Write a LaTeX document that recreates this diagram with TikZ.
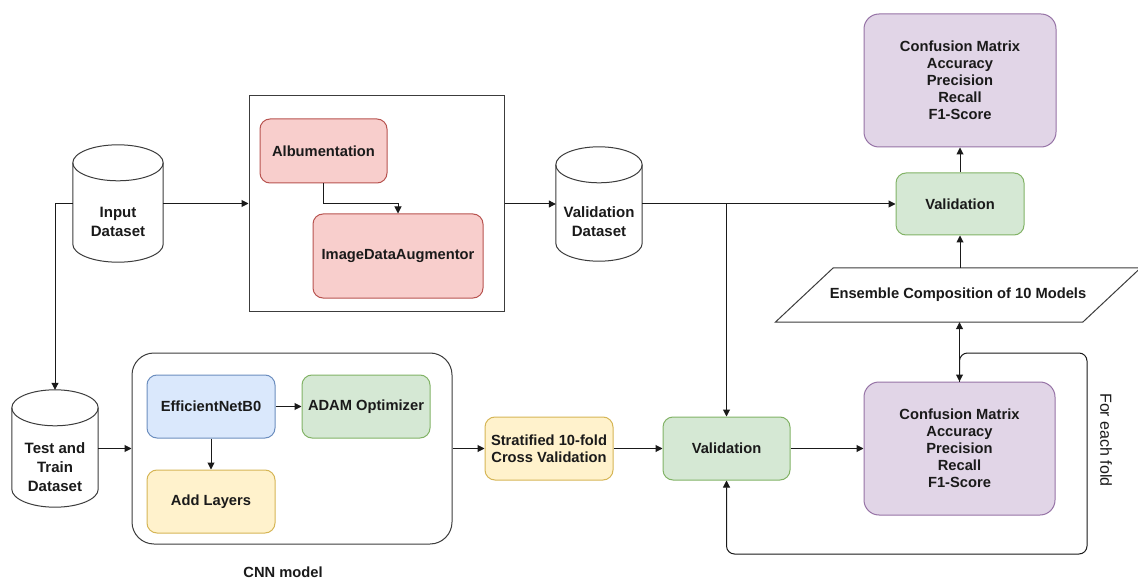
\documentclass[tikz,border=0pt]{standalone}
\usepackage{fontspec}
\setmainfont{Liberation Sans}
\usetikzlibrary{arrows.meta,calc}

\definecolor{pinkF}{HTML}{F8CECC}\definecolor{pinkD}{HTML}{B85450}
\definecolor{blueF}{HTML}{DAE8FC}\definecolor{blueD}{HTML}{6C8EBF}
\definecolor{greenF}{HTML}{D5E8D4}\definecolor{greenD}{HTML}{82B366}
\definecolor{yellowF}{HTML}{FFF2CC}\definecolor{yellowD}{HTML}{D6B656}
\definecolor{purpleF}{HTML}{E1D5E7}\definecolor{purpleD}{HTML}{9673A6}
\definecolor{ink}{HTML}{1A1A1A}

\tikzset{
  lbl/.style={font=\bfseries\fontsize{14.7}{17}\selectfont, text=ink, align=center, inner sep=0pt},
  box/.style={lbl, rectangle, rounded corners=10pt, line width=1pt},
  pinkbox/.style={box, fill=pinkF, draw=pinkD},
  bluebox/.style={box, fill=blueF, draw=blueD},
  greenbox/.style={box, fill=greenF, draw=greenD},
  yellowbox/.style={box, fill=yellowF, draw=yellowD},
  purplebox/.style={box, fill=purpleF, draw=purpleD, rounded corners=15pt},
  frame/.style={rectangle, draw=ink!85, line width=1pt, inner sep=0pt},
  cylbody/.style={rectangle, draw=none, inner sep=0pt},
  cyltext/.style={lbl, font=\bfseries\fontsize{15}{19}\selectfont},
  cylline/.style={draw=ink!85, fill=white, line width=1pt},
  conn/.style={draw=ink, line width=1pt},
  arr/.style={conn, -{Triangle[length=7pt,width=7pt]}},
  darr/.style={conn, {Triangle[length=7pt,width=7pt]}-{Triangle[length=7pt,width=7pt]}},
}

% database cylinder drawn around a named rectangular node
\newcommand\drawdbcyl[1]{%
  \draw[cylline] let \p1=($(#1.east)-(#1.west)$) in
    ($(#1.north west)+(0,-18)$) -- ($(#1.south west)+(0,18)$)
    arc[start angle=180, end angle=360, x radius=0.5*\x1, y radius=18pt]
    -- ($(#1.north east)+(0,-18)$)
    arc[start angle=0, end angle=180, x radius=0.5*\x1, y radius=18pt] -- cycle;
  \draw[cylline, fill=none] let \p1=($(#1.east)-(#1.west)$) in
    ($(#1.north west)+(0,-18)$)
    arc[start angle=180, end angle=360, x radius=0.5*\x1, y radius=18pt];
}

\begin{document}
\begin{tikzpicture}[x=1pt, y=1pt]
\useasboundingbox[fill=white] (0,0) rectangle (1138,582);

% data stores
\node[cylbody, minimum width=90pt, minimum height=117pt] (inp) at (118,378.5) {};
\node[cylbody, minimum width=86pt, minimum height=117pt] (tt) at (55,133.5) {};
\node[cylbody, minimum width=86pt, minimum height=114pt] (vds) at (599,378) {};
\drawdbcyl{inp}
\drawdbcyl{tt}
\drawdbcyl{vds}
\node[cyltext] (inpt) at ($(inp)+(0,-18)$) {Input\\Dataset};
\node[cyltext] (ttt) at ($(tt)+(0,-19)$) {Test and\\Train\\Dataset};
\node[cyltext] (vdst) at ($(vds)+(0,-18)$) {Validation\\Dataset};

% augmentation block
\node[frame, minimum width=255pt, minimum height=215pt] (aug) at (376.5,378.5) {};
\node[pinkbox, minimum width=127pt, minimum height=64pt] (alb) at (323.5,431) {Albumentation};
\node[pinkbox, minimum width=170pt, minimum height=84pt] (ida) at (398,326) {ImageDataAugmentor};

% CNN model block
\node[frame, rounded corners=22pt, minimum width=320pt, minimum height=191pt] (cnn) at (292,133.5) {};
\node[bluebox, minimum width=128pt, minimum height=63pt] (eff) at (211,175.5) {EfficientNetB0};
\node[greenbox, minimum width=128pt, minimum height=63pt] (adam) at (366,175.5) {ADAM Optimizer};
\node[yellowbox, minimum width=128pt, minimum height=63pt] (add) at (211,80.5) {Add Layers};
\node[lbl] (cnnlbl) at (283,10) {CNN model};

% cross validation
\node[yellowbox, minimum width=128pt, minimum height=63pt] (strat) at (549,133.5) {Stratified 10-fold\\Cross Validation};
\node[greenbox, minimum width=127pt, minimum height=63pt] (valb) at (726.5,133.5) {Validation};
\node[purplebox, minimum width=191pt, minimum height=133pt] (pb) at (959.5,133.5)
  {Confusion Matrix\\Accuracy\\Precision\\Recall\\F1-Score};

% ensemble
\node[lbl, minimum width=307pt, minimum height=54pt] (ens) at (958,287) {Ensemble Composition of 10 Models};
\draw[conn, draw=ink!85]
  ($(ens.south west)+(-29,0)$) -- ($(ens.north west)+(29,0)$) --
  ($(ens.north east)+(29,0)$) -- ($(ens.south east)+(-29,0)$) -- cycle;
\node[greenbox, minimum width=128pt, minimum height=62pt] (valt) at (960,378) {Validation};
\node[purplebox, minimum width=192pt, minimum height=133pt] (pt) at (960,501.5)
  {Confusion Matrix\\Accuracy\\Precision\\Recall\\F1-Score};

\node[font=\fontsize{16}{19}\selectfont, text=ink, rotate=270, inner sep=0pt, anchor=center] (fold) at (1106,142) {For~each~fold};

% loop corner points
\coordinate (loopR) at (1087,229);
\coordinate (loopB) at (1087,28);

% connectors
\draw[arr] (inp.east) -- (aug.west |- inp.east);
\draw[arr] (inp.west) -| (tt.north);
\draw[arr] (tt.east) -- (cnn.west |- tt.east);
\draw[arr] (alb.south) |- ($(ida.north)+(0,10)$) -- (ida.north);
\draw[arr] (aug.east |- vds.west) -- (vds.west);
\draw[arr] (eff.east) -- (adam.west);
\draw[arr] (eff.south) -- (add.north);
\draw[arr] (cnn.east |- strat.west) -- (strat.west);
\draw[arr] (strat.east) -- (valb.west);
\draw[arr] (vds.east) -- (valt.west);
\draw[arr] (valb.north |- vds.east) -- (valb.north);
\draw[arr] (valb.east) -- (pb.west);
\draw[arr] (valt.north) -- (pt.south);
\draw[arr] (valt.south |- ens.north) -- (valt.south);
\draw[arr] (pb.north) -- (pb.north |- ens.south);
\draw[darr, rounded corners=8pt] (valb.south) |- (loopB) -- (loopR) -| (pb.north);
\end{tikzpicture}
\end{document}
